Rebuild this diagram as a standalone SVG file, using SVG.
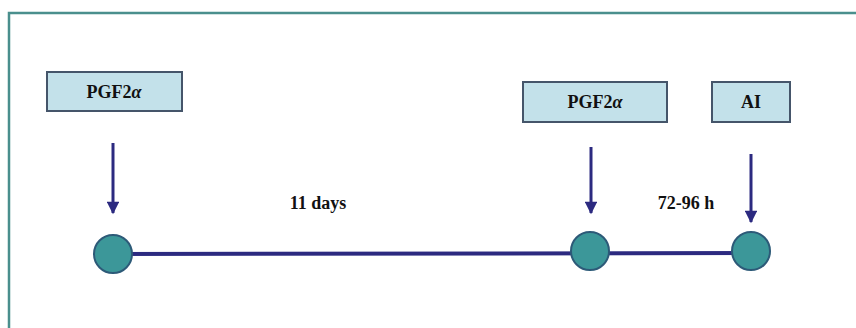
<svg xmlns="http://www.w3.org/2000/svg" width="856" height="328" viewBox="0 0 856 328">
<style>
.box{fill:#c3e1ea;stroke:#45556a;stroke-width:2}
.lbl{font-family:"Liberation Serif","Times New Roman",serif;font-weight:bold;font-size:18px;fill:#111;text-anchor:middle}
.arr{stroke:#2c2a80;stroke-width:3;fill:none}
.dot{fill:#3c9799;stroke:#2d5a78;stroke-width:2}
.tl{stroke:#2c2a80;stroke-width:4}
.frame{stroke:#4a8f8d;stroke-width:2.5;fill:none}
</style>
<defs>
<marker id="ah" viewBox="0 0 10 10" refX="9" refY="5" markerWidth="4.6" markerHeight="4.2" markerUnits="strokeWidth" orient="auto">
<path d="M0,0 L10,5 L0,10 z" fill="#2c2a80"/>
</marker>
</defs>
<rect width="856" height="328" fill="#ffffff"/>
<path class="frame" d="M9,328 V13 H856"/>
<g id="connectors">
<line class="tl" x1="113" y1="254" x2="751" y2="253"/>
<line class="arr" x1="113" y1="143" x2="113" y2="213" marker-end="url(#ah)"/>
<line class="arr" x1="591" y1="147" x2="591" y2="213" marker-end="url(#ah)"/>
<line class="arr" x1="751" y1="154" x2="751" y2="222" marker-end="url(#ah)"/>
</g>
<g id="pgf1"><rect class="box" x="47" y="72" width="135" height="39"/><text class="lbl" x="114" y="98">PGF2<tspan font-style="italic">α</tspan></text></g>
<g id="pgf2"><rect class="box" x="523" y="82" width="144" height="40"/><text class="lbl" x="595" y="108">PGF2<tspan font-style="italic">α</tspan></text></g>
<g id="ai"><rect class="box" x="712" y="82" width="78" height="40"/><text class="lbl" x="751" y="108">AI</text></g>
<g id="lbl11"><text class="lbl" x="318" y="209">11 days</text></g>
<g id="lbl72"><text class="lbl" x="686" y="209">72-96 h</text></g>
<g id="d1"><circle class="dot" cx="113" cy="254" r="19"/></g>
<g id="d2"><circle class="dot" cx="590" cy="251" r="19"/></g>
<g id="d3"><circle class="dot" cx="751" cy="251" r="19"/></g>
</svg>
